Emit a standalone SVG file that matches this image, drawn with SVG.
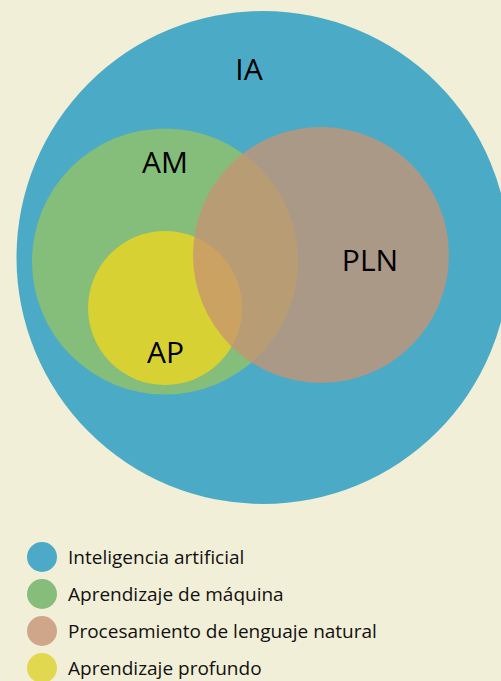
<svg xmlns="http://www.w3.org/2000/svg" width="501" height="681" viewBox="0 0 501 681">
<style>
.lbl{font-family:"Open Sans","Noto Sans","Liberation Sans",sans-serif;font-size:30px;fill:#000;text-anchor:middle}
.leg{font-family:"Open Sans","Noto Sans","Liberation Sans",sans-serif;font-size:19px;fill:#111}
</style>
<rect x="0" y="0" width="501" height="681" fill="#f1efd7"/>
<g id="ia">
<circle cx="263" cy="257.5" r="246.5" fill="#4baac6"/>
<text class="lbl" x="249" y="80">IA</text>
</g>
<g id="am">
<circle cx="165" cy="261.5" r="133" fill="#85bd7a"/>
<text class="lbl" x="165" y="173">AM</text>
</g>
<g id="ap">
<circle cx="165" cy="308" r="77" fill="#d7d134"/>
<text class="lbl" x="165.5" y="363">AP</text>
</g>
<g id="pln">
<circle cx="321" cy="255" r="128" fill="#c89372" fill-opacity="0.76"/>
<text class="lbl" x="370" y="271">PLN</text>
</g>
<g id="legend">
<circle cx="42" cy="557" r="15" fill="#4caac8"/>
<text class="leg" x="68" y="564">Inteligencia artificial</text>
<circle cx="42" cy="594" r="15" fill="#86bd7b"/>
<text class="leg" x="68" y="601">Aprendizaje de máquina</text>
<circle cx="42" cy="631" r="15" fill="#d0a68a"/>
<text class="leg" x="68" y="638">Procesamiento de lenguaje natural</text>
<circle cx="42" cy="668" r="15" fill="#e2d850"/>
<text class="leg" x="68" y="675">Aprendizaje profundo</text>
</g>
<g id="connectors"/>
</svg>
